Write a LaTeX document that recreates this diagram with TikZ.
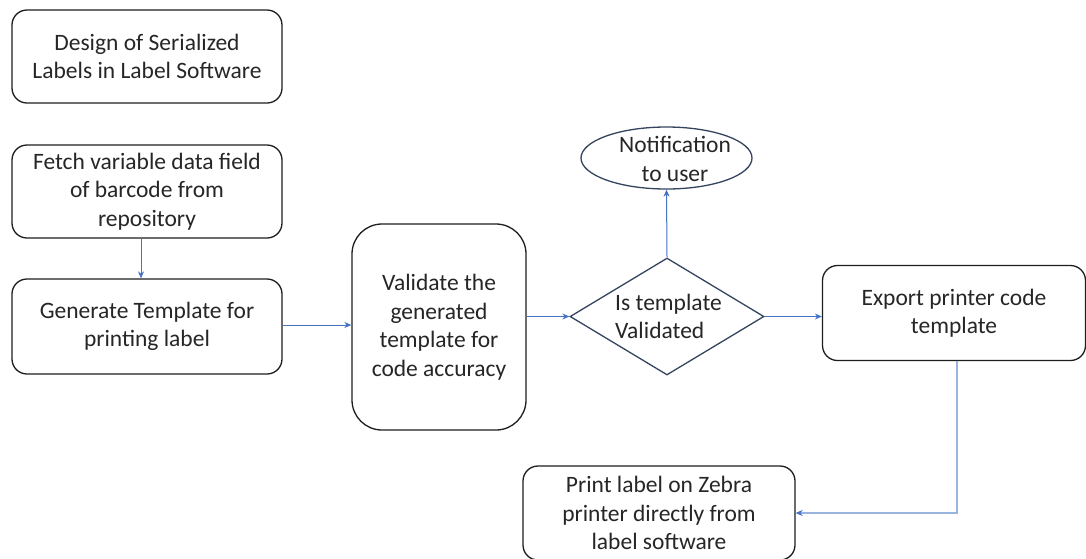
\documentclass[tikz,border=0pt]{standalone}
\usepackage{fontspec}
\setmainfont{Carlito}
\usetikzlibrary{arrows.meta,shapes.geometric}
\definecolor{txt}{HTML}{262626}
\definecolor{bord}{HTML}{1E1E1E}
\definecolor{dbord}{HTML}{34445F}
\definecolor{arr}{HTML}{4472C4}
\definecolor{larr}{HTML}{9AB4E0}
\tikzset{
  stepbox/.style={draw=bord, line width=1.3pt, rounded corners=15pt, align=center,
    text=txt, inner sep=0pt, font=\fontsize{23.5}{28.5}\selectfont},
  txtonly/.style={align=center, text=txt, inner sep=0pt, font=\fontsize{23.5}{28.5}\selectfont},
  conn/.style={draw=arr, line width=1pt, -{Stealth[length=7pt,width=6pt]}},
  lconn/.style={draw=larr, line width=2pt, -{Stealth[length=7pt,width=6pt,color=arr]}}
}
\begin{document}
\begin{tikzpicture}[x=1pt,y=-1pt]
\useasboundingbox[fill=white] (0,0) rectangle (1086,558);
\begin{scope}
\clip (0,0) rectangle (1086,558);
\node[stepbox, minimum width=270pt, minimum height=93pt] (design) at (147,56.5) {Design of Serialized\\Labels in Label Software};
\node[stepbox, minimum width=270pt, minimum height=93pt] (fetch) at (147,191.5) {Fetch variable data field\\of barcode from\\repository};
\node[stepbox, minimum width=270pt, minimum height=95pt] (gen) at (147,326.5) {Generate Template for\\printing label};
\node[stepbox, rounded corners=30pt, minimum width=174pt, minimum height=206pt] (valid) at (439,327) {Validate the\\generated\\template for\\code accuracy};
\node[diamond, draw=dbord, line width=1.3pt, minimum width=194pt, minimum height=117pt, inner sep=0pt] (dia) at (667,316.5) {};
\node[txtonly, align=left, anchor=west] (diatext) at (615,316.5) {Is template\\Validated};
\node[ellipse, draw=dbord, line width=1.3pt, minimum width=171pt, minimum height=62pt, inner sep=0pt] (notif) at (666.5,158) {};
\node[txtonly] (notiftext) at (675,159) {Notification\\to user};
\node[stepbox, minimum width=263pt, minimum height=95pt] (export) at (954,313) {Export printer code\\template};
\node[stepbox, minimum width=272pt, minimum height=94pt] (print) at (659,513) {Print label on Zebra\\printer directly from\\label software};
\end{scope}
\draw[conn] ([xshift=-6pt]fetch.south) -- ([xshift=-6pt]gen.north);
\draw[conn] ([yshift=1.5pt]gen.east) -- ([yshift=1.5pt]gen.east -| valid.west);
\draw[conn] (dia.west -| valid.east) -- (dia.west);
\draw[conn] (dia.north) -- (notif.south);
\draw[conn] (dia.east) -- (dia.east -| export.west);
\draw[lconn] ([xshift=3pt]export.south) |- (print.east);
\end{tikzpicture}
\end{document}
